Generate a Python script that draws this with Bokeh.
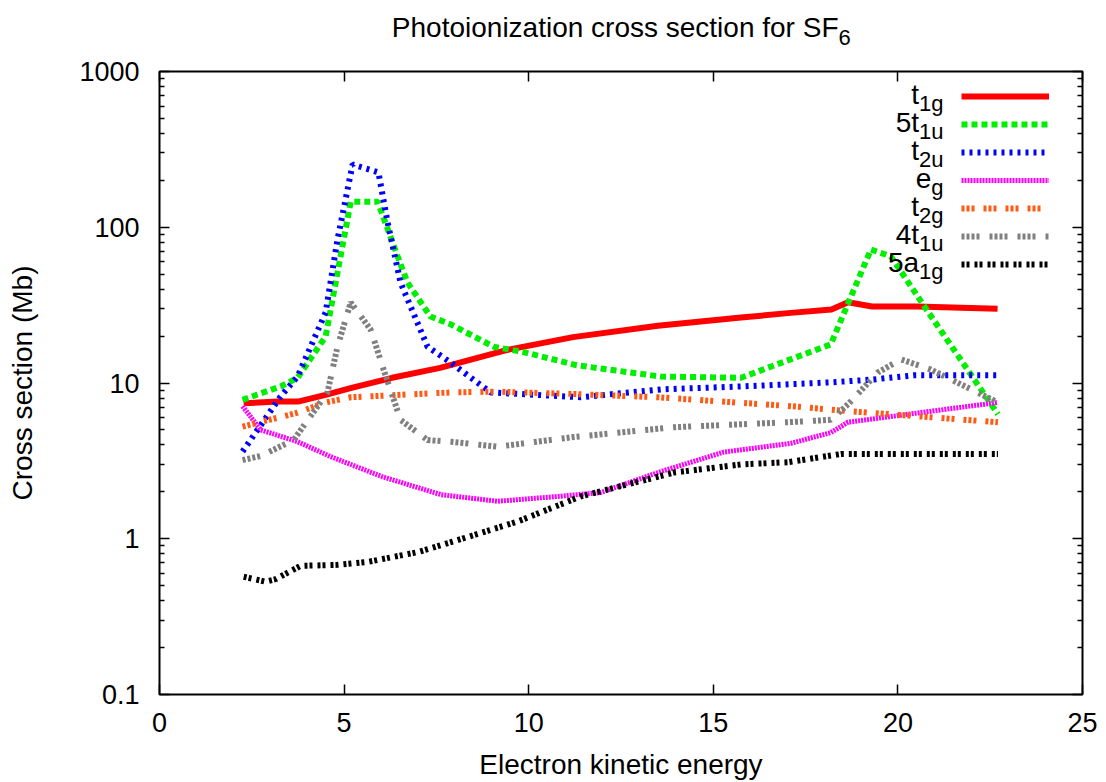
from bokeh.plotting import figure
from bokeh.layouts import column
from bokeh.models import (Range1d, FixedTicker, LinearAxis, LogAxis, Label, Legend,
                          LegendItem, CustomJSTickFormatter)
from bokeh.embed import file_html
from bokeh.resources import INLINE

FONT = "Liberation Sans"

# ---------------- data ----------------
t1g_x = [2.28, 3.2, 3.75, 4.5, 5.2, 6.3, 7.6, 9.42, 11.2, 13.5, 15.75, 17.1, 18.2, 18.65, 19.3, 20.5, 22.7]
t1g_y = [7.4, 7.6, 7.6, 8.4, 9.3, 10.8, 12.5, 16.3, 19.7, 23.3, 26.3, 28.2, 29.6, 33.0, 31.0, 31.0, 30.0]

t1u5_x = [2.25, 3.28, 3.74, 4.5, 5.18, 5.91, 6.45, 6.72, 7.34, 7.89, 9.05, 9.86, 11.3, 13.58, 15.75, 18.18, 19.27, 19.81, 20.8, 22.71]
t1u5_y = [7.8, 9.5, 10.8, 19.9, 146, 146, 65, 44, 26.7, 23.8, 17.1, 15.8, 13.0, 11.0, 10.8, 17.7, 72, 65, 29, 6.3]

t2u_x = [2.25, 3.28, 3.74, 4.5, 4.82, 5.23, 5.93, 6.18, 6.53, 7.26, 7.89, 8.97, 11.41, 13.58, 15.75, 18.18, 19.27, 20.43, 22.71]
t2u_y = [3.63, 8.2, 11.0, 28.4, 83, 253, 225, 107, 44, 17.1, 13.5, 8.7, 8.1, 9.1, 9.5, 10.1, 10.5, 11.2, 11.2]

eg_x = [2.25, 2.74, 3.74, 4.63, 6.04, 7.62, 9.16, 10.79, 11.95, 13.58, 15.28, 17.1, 18.18, 18.65, 20.27, 22.71]
eg_y = [7.1, 5.0, 4.2, 3.37, 2.5, 1.92, 1.74, 1.87, 1.98, 2.7, 3.6, 4.1, 4.8, 5.6, 6.3, 7.5]

t2g_x = [2.25, 3.74, 4.5, 5.18, 7.89, 9.1, 11.2, 13.5, 17.1, 18.65, 22.71]
t2g_y = [5.25, 6.45, 7.5, 8.1, 8.7, 8.8, 8.5, 8.1, 7.1, 6.6, 5.6]

t1u4_x = [2.25, 2.74, 3.63, 4.55, 4.82, 5.18, 5.72, 6.07, 6.53, 7.26, 7.89, 9.16, 11.22, 13.93, 17.02, 18.18, 18.65, 19.46, 20.08, 20.89, 22.71]
t1u4_y = [3.2, 3.4, 4.3, 8.7, 17.1, 32.9, 22, 12.2, 5.8, 4.3, 4.2, 3.9, 4.5, 5.2, 5.6, 5.8, 7.3, 11.7, 14.2, 12.2, 7.5]

a1g5_x = [2.28, 2.87, 3.14, 3.82, 4.82, 5.64, 6.99, 7.89, 9.7, 11.41, 13.93, 15.75, 17.02, 18.46, 22.71]
a1g5_y = [0.57, 0.53, 0.55, 0.67, 0.68, 0.71, 0.82, 0.95, 1.29, 1.87, 2.66, 3.0, 3.1, 3.5, 3.5]

# legend labels: (main text, subscript)
legend_main = ["t", "5t", "t", "e", "t", "4t", "5a"]
legend_sub = ["1g", "1u", "2u", "g", "2g", "1u", "1g"]

x_ticks = [0, 5, 10, 15, 20, 25]
y_ticks = [0.1, 1, 10, 100, 1000]
y_minor = [m * 10.0 ** e for e in range(-1, 3) for m in range(2, 10)]

title_main = "Photoionization cross section for SF"
title_sub = "6"
x_label = "Electron kinetic energy"
y_label = "Cross section (Mb)"

# ---------------- styles ----------------
styles = [
    dict(color="#ff0000", dash="solid", width=6),
    dict(color="#00ee00", dash="6 4", width=6),
    dict(color="#0000ff", dash="3 5", width=6),
    dict(color="#ff00ff", dash="2 1", width=5),
    dict(color="#ff5a14", dash="3 2 3 2 3 9", width=6),
    dict(color="#808080", dash="3 2 3 2 3 2 3 10", width=6),
    dict(color="#000000", dash="3 2 3 5", width=6),
]
series = [(t1g_x, t1g_y), (t1u5_x, t1u5_y), (t2u_x, t2u_y), (eg_x, eg_y),
          (t2g_x, t2g_y), (t1u4_x, t1u4_y), (a1g5_x, a1g5_y)]

W = 1100
TITLE_H = 50
K = 0.36  # empirical shift of a label's drawn baseline below its anchor (in em)

def make_label(x, y_baseline, text, size, align):
    return Label(x=x, y=y_baseline - K * size, x_units="canvas", y_units="canvas", text=text,
                 text_font=FONT, text_font_size=f"{size}px", text_color="black",
                 text_align=align, text_baseline="alphabetic")

# ---------------- title strip (its own small svg figure) ----------------
tf = figure(width=W, height=TITLE_H, x_range=Range1d(0, 1), y_range=Range1d(0, 1),
            output_backend="svg", toolbar_location=None, title=None,
            x_axis_location=None, y_axis_location=None, min_border=0)
tf.grid.visible = False
tf.outline_line_color = None
tf.background_fill_color = "white"
tf.border_fill_color = "white"
tf.add_layout(make_label(838, 37, title_main, 28, "right"))
tf.add_layout(make_label(838, 45, title_sub, 22, "left"))

# ---------------- main plot ----------------
p = figure(width=W, height=782 - TITLE_H, x_range=Range1d(0, 25), y_range=Range1d(0.1, 1000),
           y_axis_type="log", output_backend="svg", toolbar_location=None,
           min_border_left=159, min_border_right=W - 1082, min_border_top=71 - TITLE_H,
           min_border_bottom=87)
p.grid.visible = False
p.outline_line_color = "black"
p.outline_line_width = 2
p.background_fill_color = "white"
p.border_fill_color = "white"

def style_axis(ax, labels=True):
    ax.axis_line_color = None
    ax.major_tick_in = 10
    ax.major_tick_out = 0
    ax.minor_tick_in = 5
    ax.minor_tick_out = 0
    ax.major_tick_line_color = "black"
    ax.minor_tick_line_color = "black"
    ax.major_tick_line_width = 1.5
    ax.minor_tick_line_width = 1.5
    ax.major_label_text_font = FONT
    ax.major_label_text_font_size = "27px"
    ax.major_label_text_color = "black"
    ax.axis_label_text_font = FONT
    ax.axis_label_text_font_size = "28px"
    ax.axis_label_text_font_style = "normal"
    ax.axis_label_text_color = "black"
    if not labels:
        ax.formatter = CustomJSTickFormatter(code="return ''")
        ax.major_label_text_font_size = "1px"
        ax.major_label_standoff = 0

xa = p.xaxis[0]
xa.ticker = FixedTicker(ticks=x_ticks, minor_ticks=[])
style_axis(xa)
xa.major_label_standoff = 18
xa.axis_label = x_label
xa.axis_label_standoff = 14

ya = p.yaxis[0]
ya.ticker = FixedTicker(ticks=y_ticks, minor_ticks=y_minor)
ya.formatter = CustomJSTickFormatter(code="return String(tick)")
style_axis(ya)
ya.major_label_standoff = 20
ya.axis_label = y_label
ya.axis_label_standoff = 38

top = LinearAxis(ticker=FixedTicker(ticks=x_ticks, minor_ticks=[]))
style_axis(top, labels=False)
p.add_layout(top, "above")
right = LogAxis(ticker=FixedTicker(ticks=y_ticks, minor_ticks=y_minor))
style_axis(right, labels=False)
p.add_layout(right, "right")

renderers = []
for (xs, ys), st in zip(series, styles):
    r = p.line(xs, ys, line_color=st["color"], line_width=st["width"], line_dash=st["dash"])
    renderers.append(r)

legend = Legend(items=[LegendItem(label=" ", renderers=[r]) for r in renderers],
                location=(802, 416), orientation="vertical",
                glyph_width=88, glyph_height=28, spacing=0, padding=0, margin=0,
                label_width=0, label_height=0, label_standoff=0,
                label_text_font_size="1px", border_line_color=None,
                background_fill_alpha=0, inactive_fill_alpha=0)
p.add_layout(legend)

# legend texts (with subscripts); coordinates given in page pixels
main_size, sub_size = 28, 22
right_edge = 943
for i, (m, s) in enumerate(zip(legend_main, legend_sub)):
    row = 97 + 28 * i - TITLE_H
    junction = right_edge - 0.556 * sub_size * len(s)
    p.add_layout(make_label(junction, row + 7, m, main_size, "right"))
    p.add_layout(make_label(junction, row + 14, s, sub_size, "left"))

layout = column(tf, p, spacing=0)
open("out.html", "w").write(file_html(layout, INLINE))
